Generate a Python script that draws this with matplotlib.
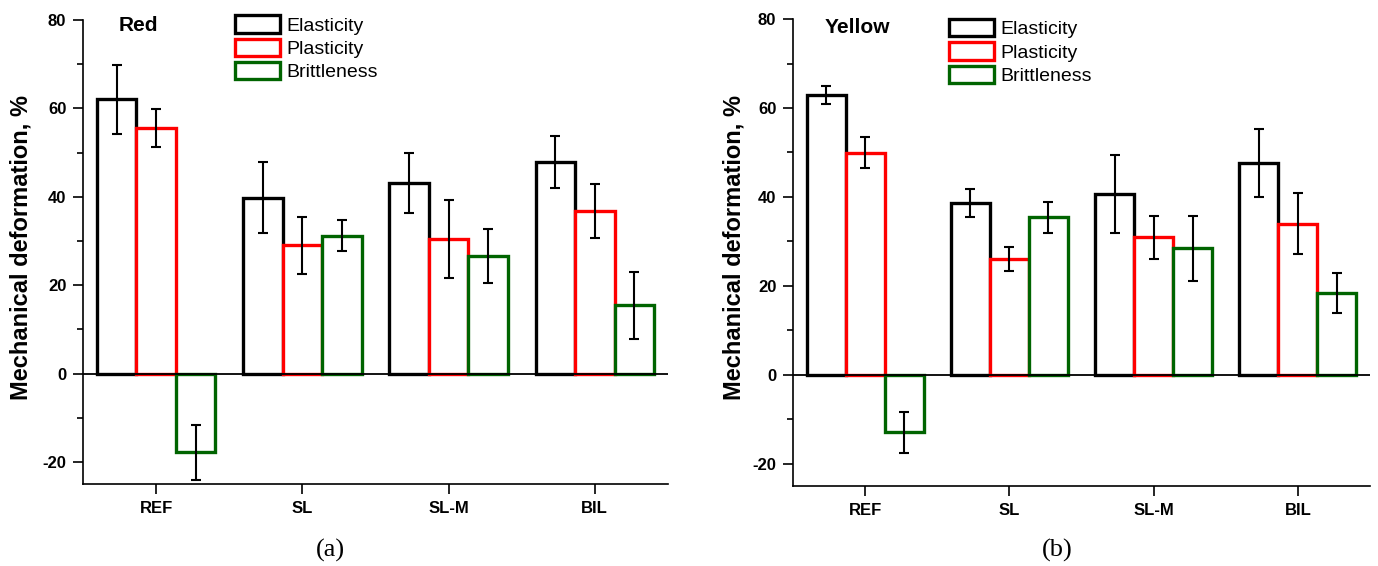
#Loads in necessary python modules.
import numpy as np
import matplotlib
matplotlib.use('Agg')
import matplotlib.pyplot as plt
from matplotlib.ticker import MultipleLocator

#Font settings, Liberation Sans stands in for Arial.
plt.rcParams['font.family'] = ['Liberation Sans', 'DejaVu Sans']
plt.rcParams['axes.unicode_minus'] = False

#Sample groups on the x-axis.
groups = ['REF', 'SL', 'SL-M', 'BIL']
series_names = ['Elasticity', 'Plasticity', 'Brittleness']

#Panel (a), red samples: mean values and error bars.
red_elasticity = [62.1, 39.8, 43.2, 47.8]
red_elasticity_err = [7.8, 8.0, 6.8, 5.9]
red_plasticity = [55.5, 29.0, 30.5, 36.8]
red_plasticity_err = [4.3, 6.4, 8.8, 6.1]
red_brittleness = [-17.8, 31.2, 26.5, 15.4]
red_brittleness_err = [6.2, 3.5, 6.1, 7.6]

#Panel (b), yellow samples: mean values and error bars.
yellow_elasticity = [62.9, 38.6, 40.7, 47.6]
yellow_elasticity_err = [2.0, 3.1, 8.7, 7.7]
yellow_plasticity = [49.9, 26.1, 30.9, 34.0]
yellow_plasticity_err = [3.5, 2.7, 4.9, 6.8]
yellow_brittleness = [-12.9, 35.4, 28.5, 18.4]
yellow_brittleness_err = [4.6, 3.5, 7.3, 4.4]

colors = ['black', '#ff0000', '#006400']
barWidth = 0.27
offsets = [-barWidth, 0, barWidth]


def draw_panel(ax, title, title_pos, values, errors, legend_anchor, label_x):
    x = np.arange(1, len(groups) + 1)
    handles = []
    for i in range(3):
        b = ax.bar(x + offsets[i], values[i], width=barWidth, facecolor='white',
                   edgecolor=colors[i], linewidth=2.4, label=series_names[i], zorder=2 + i)
        handles.append(b)
    for i in range(3):
        ax.errorbar(x + offsets[i], values[i], yerr=errors[i], fmt='none', ecolor='black',
                    elinewidth=1.5, capsize=3.3, capthick=1.5, zorder=10)
    ax.axhline(0, color='black', linewidth=1.3, zorder=8)

    ax.set_xlim(0.5, 4.5)
    ax.set_ylim(-25, 80)
    ax.set_xticks(x)
    ax.set_xticklabels(groups, fontweight='bold', fontsize=12)
    ax.yaxis.set_major_locator(MultipleLocator(20))
    ax.yaxis.set_minor_locator(MultipleLocator(10))
    for lab in ax.get_yticklabels():
        lab.set_fontweight('bold')
        lab.set_fontsize(12)
    ax.tick_params(axis='both', which='major', length=7, width=1.2, pad=5)
    ax.tick_params(axis='y', which='minor', length=4, width=1.2)
    ax.tick_params(axis='x', which='minor', bottom=False)
    ax.spines['top'].set_visible(False)
    ax.spines['right'].set_visible(False)
    ax.spines['left'].set_linewidth(1.2)
    ax.spines['bottom'].set_linewidth(1.2)
    ax.set_ylabel('Mechanical deformation, %', fontweight='bold', fontsize=17)
    ax.yaxis.set_label_coords(label_x, 0.51)
    ax.text(title_pos[0], title_pos[1], title, transform=ax.transAxes, fontweight='bold',
            fontsize=15, va='center', ha='left')
    leg = ax.legend(handles=handles, loc='upper left', bbox_to_anchor=legend_anchor,
                    frameon=False, fontsize=14, handlelength=2.3, handleheight=1.0,
                    labelspacing=0.2, handletextpad=0.35, borderpad=0, borderaxespad=0)
    return leg


#Sets the size of plot image.
fig = plt.figure(figsize=(13.78, 5.66), dpi=100, facecolor='w')
ax1 = fig.add_axes([0.0602, 0.1449, 0.4245, 0.8198])
ax2 = fig.add_axes([0.5755, 0.1413, 0.4187, 0.8250])

draw_panel(ax1, 'Red', (0.0615, 0.989),
           [red_elasticity, red_plasticity, red_brittleness],
           [red_elasticity_err, red_plasticity_err, red_brittleness_err],
           (0.26, 1.01), -0.087)
draw_panel(ax2, 'Yellow', (0.0555, 0.981),
           [yellow_elasticity, yellow_plasticity, yellow_brittleness],
           [yellow_elasticity_err, yellow_plasticity_err, yellow_brittleness_err],
           (0.27, 1.0), -0.083)

#Panel captions.
fig.text(330 / 1378, 1 - 550 / 566, '(a)', family='Liberation Serif', fontsize=19,
         ha='center', va='center')
fig.text(1057 / 1378, 1 - 550 / 566, '(b)', family='Liberation Serif', fontsize=19,
         ha='center', va='center')

#Saves plot to output image.
plt.savefig('out.png', dpi=100)
